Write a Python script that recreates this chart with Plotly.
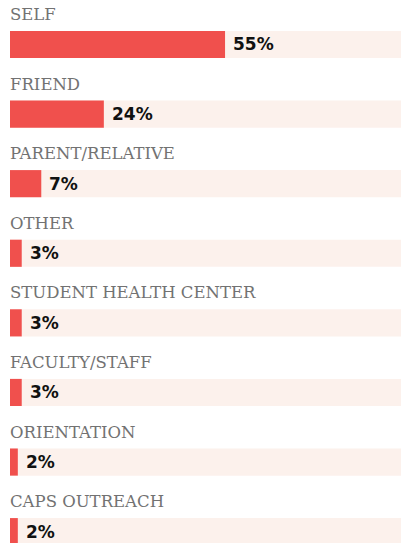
import plotly.graph_objects as go

# referral sources, top to bottom
sources = ["SELF", "FRIEND", "PARENT/RELATIVE", "OTHER", "STUDENT HEALTH CENTER",
           "FACULTY/STAFF", "ORIENTATION", "CAPS OUTREACH"]
bar_values = [55, 24, 8, 3, 3, 3, 2, 2]
pct_labels = ["55%", "24%", "7%", "3%", "3%", "3%", "2%", "2%"]
track_values = [100] * len(sources)

RED = "#F0504D"
TRACK = "#FCF1EC"

fig = go.Figure()

fig.add_trace(go.Bar(
    y=sources, x=track_values, orientation="h",
    marker=dict(color=TRACK, line=dict(width=0)),
    width=0.39, hoverinfo="skip", showlegend=False,
))
fig.add_trace(go.Bar(
    y=sources, x=bar_values, orientation="h",
    marker=dict(color=RED, line=dict(width=0)),
    width=0.39, hoverinfo="skip", showlegend=False,
))

# category name above each bar
for s in sources:
    fig.add_annotation(
        x=0, y=s, xref="x", yref="y", text=s, showarrow=False,
        xanchor="left", yanchor="middle", yshift=30, xshift=-2,
        font=dict(family="DejaVu Serif", size=16.5, color="#727272"),
    )

# percentage right of each bar
for s, v, lab in zip(sources, bar_values, pct_labels):
    fig.add_annotation(
        x=v, y=s, xref="x", yref="y", text=lab, showarrow=False,
        xanchor="left", yanchor="middle", xshift=6,
        font=dict(family="DejaVu Sans", size=17, color="#111111", weight="bold"),
    )

fig.update_layout(
    width=402, height=543,
    margin=dict(l=10, r=1, t=0, b=0),
    barmode="overlay",
    plot_bgcolor="white", paper_bgcolor="white",
    xaxis=dict(range=[0, 100], visible=False, fixedrange=True),
    yaxis=dict(categoryorder="array", categoryarray=sources,
               range=[7.163, -0.639], visible=False, fixedrange=True),
)

fig.write_html("out.html", config={"displayModeBar": False},
               post_script="document.body.style.margin='0';")
